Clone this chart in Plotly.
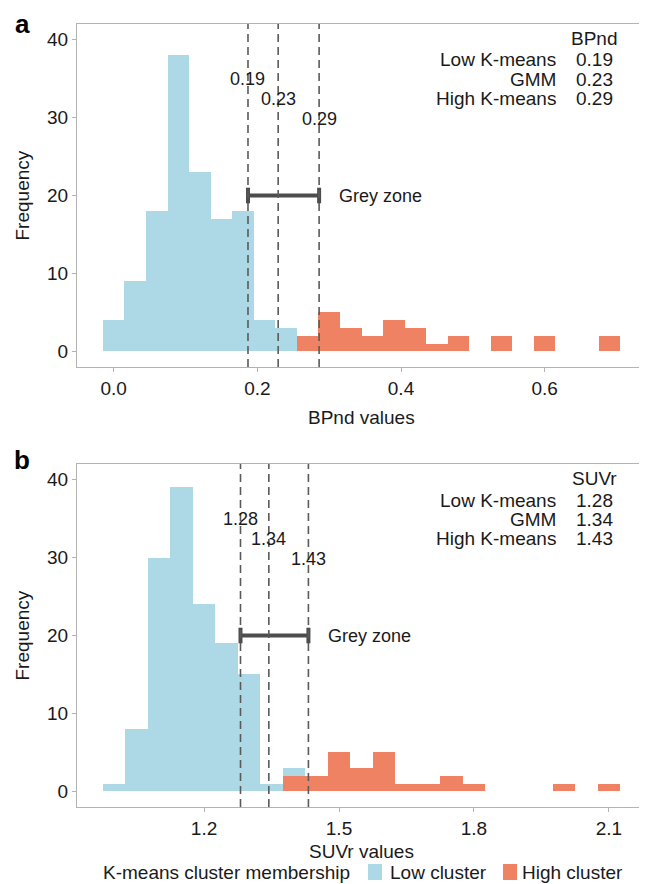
import plotly.graph_objects as go

# ---- data ----
a_low_x = [0.00, 0.03, 0.06, 0.09, 0.12, 0.15, 0.18, 0.21, 0.24]
a_low_y = [4, 9, 18, 38, 23, 17, 18, 4, 3]
a_high_x = [0.27, 0.30, 0.33, 0.36, 0.39, 0.42, 0.45, 0.48, 0.54, 0.60, 0.69]
a_high_y = [2, 5, 3, 2, 4, 3, 1, 2, 2, 2, 2]
a_binw = 0.03

b_low_x = [1.00, 1.05, 1.10, 1.15, 1.20, 1.25, 1.30, 1.35, 1.40]
b_low_y = [1, 8, 30, 39, 24, 19, 15, 1, 3]
b_high_x = [1.40, 1.45, 1.50, 1.55, 1.60, 1.65, 1.70, 1.75, 1.80, 2.00, 2.10]
b_high_y = [2, 2, 5, 3, 5, 1, 1, 2, 1, 1, 1]
b_binw = 0.05

method_names = ["Low K-means", "GMM", "High K-means"]
a_thresholds = [0.187, 0.229, 0.286]
b_thresholds = [1.281, 1.344, 1.432]
label_heights = [34.9, 32.4, 29.8]
grey_zone_y = 20

a_xticks = [0.0, 0.2, 0.4, 0.6]
b_xticks = [1.2, 1.5, 1.8, 2.1]
y_ticks = [0, 10, 20, 30, 40]

legend_title = "K-means cluster membership"
legend_labels = ["Low cluster", "High cluster"]

LOW_COLOR = "#ADD8E6"
HIGH_COLOR = "#EF8263"
FONT = "Liberation Sans, Arial, sans-serif"
TXT = "#1a1a1a"
FS = 19
FS_ANN = 18

# page body has an 8px default margin: work in screen pixels and convert
OFF = 8
W, H = 639, 876
L_s, R_s = 77, 646          # plot left/right in screen px
L = L_s - OFF
R = W - (R_s - OFF)

def px_x(sx):
    return (sx - OFF - L) / (W - L - R)

def px_y(sy):
    return 1 - (sy - OFF) / H

a_top, a_bot = 24, 367
b_top, b_bot = 464, 807
a_dom = [px_y(a_bot), px_y(a_top)]
b_dom = [px_y(b_bot), px_y(b_top)]

fig = go.Figure()

panels = [
    dict(xa="x", ya="y", low_x=a_low_x, low_y=a_low_y, high_x=a_high_x, high_y=a_high_y,
         w=a_binw, th=a_thresholds, name="BPnd", fmt="{:.2f}", letter="a", title_gap=50,
         top=a_top, bot=a_bot),
    dict(xa="x2", ya="y2", low_x=b_low_x, low_y=b_low_y, high_x=b_high_x, high_y=b_high_y,
         w=b_binw, th=b_thresholds, name="SUVr", fmt="{:.2f}", letter="b", title_gap=44,
         top=b_top, bot=b_bot),
]

annotations = []
shapes = []
for p in panels:
    fig.add_trace(go.Bar(x=p["low_x"], y=p["low_y"], width=p["w"], marker=dict(color=LOW_COLOR, line=dict(width=0)),
                         name=legend_labels[0], showlegend=False, xaxis=p["xa"], yaxis=p["ya"]))
    fig.add_trace(go.Bar(x=p["high_x"], y=p["high_y"], width=p["w"], marker=dict(color=HIGH_COLOR, line=dict(width=0)),
                         name=legend_labels[1], showlegend=False, xaxis=p["xa"], yaxis=p["ya"]))
    for t, lh in zip(p["th"], label_heights):
        shapes.append(dict(type="line", xref=p["xa"], yref=p["ya"] + " domain", x0=t, x1=t, y0=0, y1=1,
                           line=dict(color="#5a5a5a", width=1.6, dash="8px,5px"), layer="above"))
        annotations.append(dict(x=t, y=lh, xref=p["xa"], yref=p["ya"], text=p["fmt"].format(t),
                                showarrow=False, font=dict(size=FS_ANN, color=TXT, family=FONT)))
    lo, hi = p["th"][0], p["th"][-1]
    fig.add_trace(go.Scatter(x=[lo, hi], y=[grey_zone_y, grey_zone_y], mode="lines",
                             line=dict(color="#4d4d4d", width=4), showlegend=False, hoverinfo="skip",
                             error_y=dict(type="constant", value=1, thickness=4, width=0, color="#4d4d4d"),
                             xaxis=p["xa"], yaxis=p["ya"]))
    annotations.append(dict(x=hi, y=grey_zone_y, xref=p["xa"], yref=p["ya"], text="Grey zone",
                            xanchor="left", xshift=18, showarrow=False,
                            font=dict(size=FS_ANN, color=TXT, family=FONT)))

    top, bot = p["top"], p["bot"]
    annotations.append(dict(x=px_x(594), y=px_y(top + 14), xref="paper", yref="paper", text=p["name"],
                            showarrow=False, xanchor="center", yanchor="middle",
                            font=dict(size=FS, color=TXT, family=FONT)))
    for i, (nm, t) in enumerate(zip(method_names, p["th"])):
        yy = px_y(top + 36 + 19.3 * i)
        annotations.append(dict(x=px_x(558), y=yy, xref="paper", yref="paper", text=nm,
                                showarrow=False, xanchor="right", yanchor="middle",
                                font=dict(size=FS, color=TXT, family=FONT)))
        annotations.append(dict(x=px_x(594), y=yy, xref="paper", yref="paper", text=p["fmt"].format(t),
                                showarrow=False, xanchor="center", yanchor="middle",
                                font=dict(size=FS, color=TXT, family=FONT)))
    # panel letter: top-anchored so that its text box stays inside the figure
    annotations.append(dict(x=px_x(22), y=min(1.0, px_y(top - 20)), xref="paper", yref="paper",
                            text="<b>" + p["letter"] + "</b>",
                            showarrow=False, xanchor="center", yanchor="top", borderpad=0,
                            font=dict(size=26, color="#000", family=FONT)))
    annotations.append(dict(x=px_x(22), y=px_y((top + bot) / 2), xref="paper", yref="paper",
                            text="Frequency", textangle=-90,
                            showarrow=False, xanchor="center", yanchor="middle",
                            font=dict(size=FS, color=TXT, family=FONT)))
    annotations.append(dict(x=0.5, y=px_y(bot + p["title_gap"]), xref="paper", yref="paper",
                            text=p["name"] + " values",
                            showarrow=False, xanchor="center", yanchor="middle",
                            font=dict(size=FS, color=TXT, family=FONT)))

# manual legend at the bottom
leg_y = 872
annotations.append(dict(x=px_x(101), y=px_y(leg_y), xref="paper", yref="paper", text=legend_title,
                        showarrow=False, xanchor="left", yanchor="middle",
                        font=dict(size=FS, color=TXT, family=FONT)))
for (sx, tx), lab, col in zip([(368, 388), (503, 520)], legend_labels, [LOW_COLOR, HIGH_COLOR]):
    shapes.append(dict(type="rect", xref="paper", yref="paper", x0=px_x(sx), x1=px_x(sx + 14),
                       y0=px_y(leg_y + 8), y1=px_y(leg_y - 8), fillcolor=col, line=dict(width=0)))
    annotations.append(dict(x=px_x(tx), y=px_y(leg_y), xref="paper", yref="paper", text=lab,
                            showarrow=False, xanchor="left", yanchor="middle",
                            font=dict(size=FS, color=TXT, family=FONT)))

axis_common = dict(showgrid=False, zeroline=False, showline=True, mirror=True, linecolor="#b3b3b3",
                   linewidth=1, ticks="outside", ticklen=4, tickcolor="#b3b3b3", automargin=False,
                   tickfont=dict(size=FS, color=TXT, family=FONT))

fig.update_layout(
    width=W, height=H, margin=dict(l=L, r=R, t=0, b=0),
    paper_bgcolor="white", plot_bgcolor="white", barmode="overlay", bargap=0, showlegend=False,
    font=dict(family=FONT, color=TXT, size=FS),
    xaxis=dict(domain=[0, 1], anchor="y", range=[-0.051, 0.741], tickvals=a_xticks,
               ticktext=["{:.1f}".format(v) for v in a_xticks], **axis_common),
    yaxis=dict(domain=a_dom, anchor="x", range=[-2, 42], tickvals=y_ticks, **axis_common),
    xaxis2=dict(domain=[0, 1], anchor="y2", range=[0.9175, 2.1825], tickvals=b_xticks,
                ticktext=["{:.1f}".format(v) for v in b_xticks], **axis_common),
    yaxis2=dict(domain=b_dom, anchor="x2", range=[-2, 42], tickvals=y_ticks, **axis_common),
    annotations=annotations, shapes=shapes,
)

fig.write_html("out.html")
